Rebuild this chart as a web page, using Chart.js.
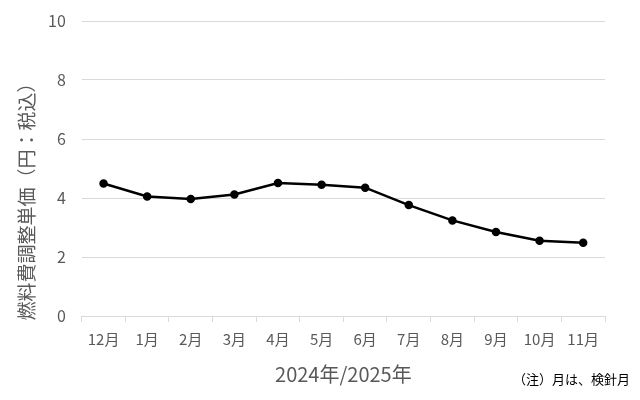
<!DOCTYPE html>
<html>
<head>
<meta charset="utf-8">
<script src="https://cdn.jsdelivr.net/npm/chart.js@4"></script>
<style>
  html, body { margin: 0; padding: 0; background: #fff; }
  #wrap { width: 640px; height: 400px; }
</style>
</head>
<body>
<div id="wrap"><canvas id="priceChart" width="640" height="400"></canvas></div>
<script>
const months = ['12月', '1月', '2月', '3月', '4月', '5月', '6月', '7月', '8月', '9月', '10月', '11月'];
const unitPrice = [4.49, 4.05, 3.97, 4.12, 4.51, 4.45, 4.35, 3.76, 3.24, 2.85, 2.55, 2.48];
const yTicks = [0, 2, 4, 6, 8, 10];

const yTitle = '燃料費調整単価（円：税込）';
const xTitle = '2024年/2025年';
const note = '（注）月は、検針月';

const jpFont = "'Noto Sans CJK JP', 'Noto Sans', sans-serif";

// y title and note drawn by hand so they sit where the original has them
const extraText = {
  id: 'extraText',
  afterDraw(chart) {
    const ctx = chart.ctx;
    ctx.save();
    ctx.fillStyle = '#595959';
    ctx.font = '19px ' + jpFont;
    ctx.textAlign = 'center';
    ctx.textBaseline = 'middle';
    ctx.translate(27, 197);
    ctx.rotate(-Math.PI / 2);
    ctx.fillText(yTitle, 0, 0);
    ctx.restore();

    ctx.save();
    ctx.fillStyle = '#000';
    ctx.font = '13px ' + jpFont;
    ctx.textAlign = 'right';
    ctx.textBaseline = 'middle';
    ctx.fillText(note, 630, 379);
    ctx.restore();
  }
};

const ctx = document.getElementById('priceChart').getContext('2d');
new Chart(ctx, {
  type: 'line',
  data: {
    labels: months,
    datasets: [{
      label: '燃料費調整単価',
      data: unitPrice,
      borderColor: '#000',
      backgroundColor: '#000',
      borderWidth: 2.5,
      pointRadius: 3,
      pointBackgroundColor: '#000',
      tension: 0
    }]
  },
  options: {
    responsive: false,
    animation: false,
    layout: { padding: { left: 32, right: 35, top: 21, bottom: 14 } },
    plugins: {
      legend: { display: false },
      tooltip: { enabled: false }
    },
    scales: {
      x: {
        offset: true,
        grid: {
          offset: true,
          drawOnChartArea: false,
          drawTicks: true,
          tickLength: 6,
          color: '#d9d9d9'
        },
        border: { display: true, color: '#d9d9d9' },
        ticks: {
          color: '#595959',
          font: { family: jpFont, size: 15 },
          maxRotation: 0,
          autoSkip: false,
          padding: 8
        },
        title: {
          display: true,
          text: xTitle,
          color: '#595959',
          font: { family: jpFont, size: 20 },
          padding: { top: 6, bottom: 0 }
        }
      },
      y: {
        min: 0,
        max: 10,
        afterBuildTicks(scale) {
          scale.ticks = yTicks.map(v => ({ value: v }));
        },
        afterFit(scale) {
          scale.paddingTop = 0;
        },
        grid: { color: '#d9d9d9', drawTicks: false },
        border: { display: false },
        ticks: {
          color: '#595959',
          font: { family: jpFont, size: 16, lineHeight: 1 },
          padding: 16
        }
      }
    }
  },
  plugins: [extraText]
});
</script>
</body>
</html>
